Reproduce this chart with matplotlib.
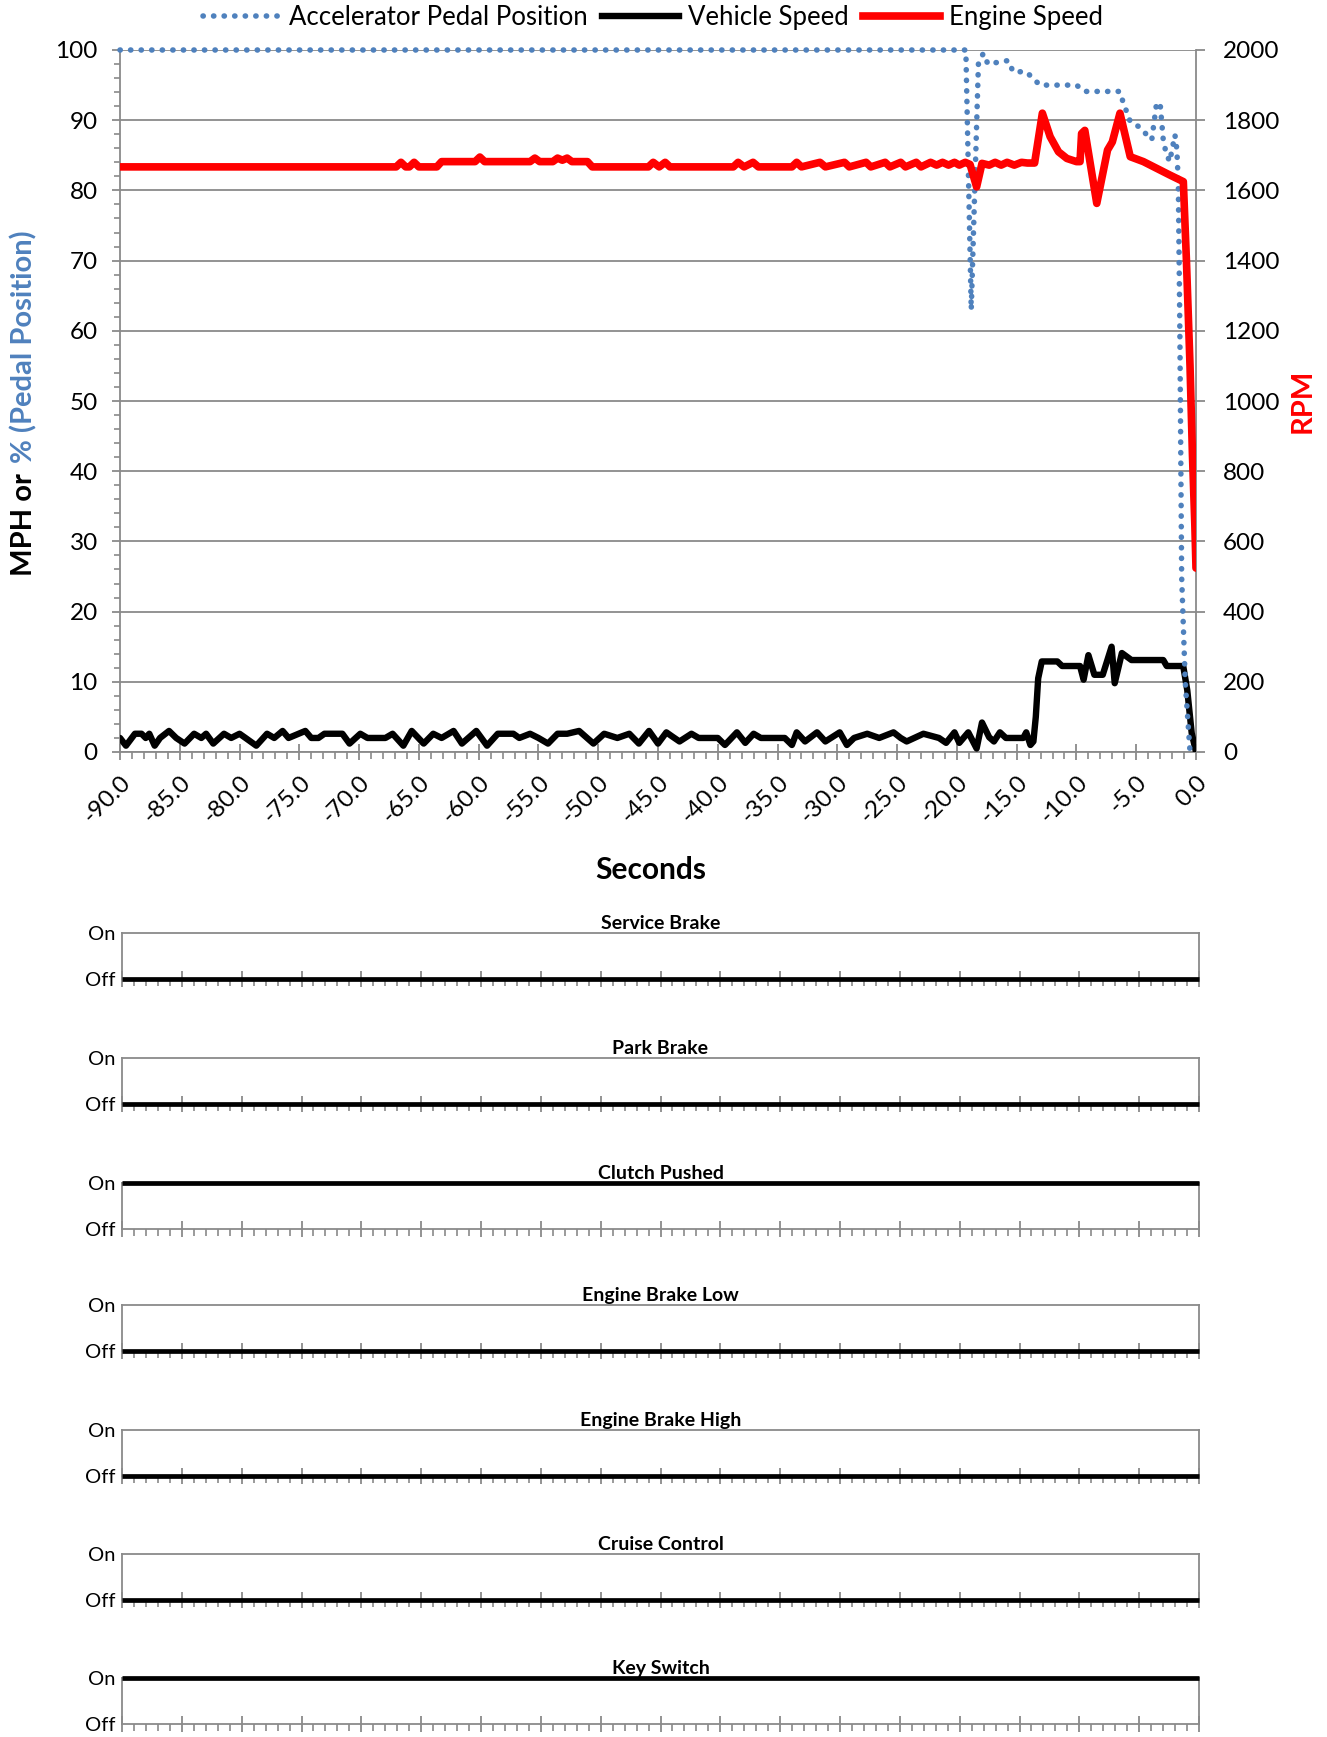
import matplotlib
matplotlib.use("Agg")
import matplotlib.pyplot as plt
from matplotlib.ticker import MultipleLocator, FormatStrFormatter
from matplotlib.lines import Line2D

plt.rcParams['font.family'] = ['Lato', 'DejaVu Sans']

# --- Data ---
speed_t = [-90, -89.5, -88.75, -88.2, -87.85, -87.55, -87.1, -86.65, -85.9, -85.3,
           -84.6, -83.8, -83.2, -82.8, -82.2, -81.3, -80.7, -80.0, -79.5, -78.6,
           -77.7, -77.1, -76.4, -75.9, -74.5, -74.0, -73.4, -72.9, -71.4, -70.8,
           -69.9, -69.3, -67.8, -67.2, -66.3, -65.6, -64.6, -63.8, -63.1, -62.1,
           -61.4, -60.2, -59.3, -58.4, -57.1, -56.6, -55.7, -55.0, -54.2, -53.4,
           -52.6, -51.6, -50.4, -49.5, -48.4, -47.4, -46.6, -45.75, -45.0, -44.3,
           -43.8, -43.2, -42.2, -41.6, -40.0, -39.4, -38.4, -37.7, -37.0, -36.4,
           -34.4, -33.8, -33.4, -32.7, -31.7, -31.0, -29.8, -29.2, -28.6, -27.5,
           -26.5, -25.3, -24.7, -24.2, -22.8, -21.5, -20.9, -20.2, -19.8, -19.05,
           -18.35, -17.9, -17.3, -16.9, -16.4, -15.9, -14.45, -14.2, -13.85, -13.6,
           -13.4, -13.2, -12.9, -11.6, -11.2, -9.7, -9.4, -9.0, -8.5, -7.8,
           -7.06, -6.8, -6.2, -5.4, -2.74, -2.45, -1.07, -0.73, -0.36, 0.0]
speed_mph = [2.0, 0.9, 2.6, 2.6, 2.0, 2.6, 0.9, 2.0, 3.0, 2.0,
             1.2, 2.6, 2.0, 2.6, 1.2, 2.6, 2.0, 2.6, 2.0, 0.9,
             2.6, 2.0, 3.0, 2.0, 3.0, 2.0, 2.0, 2.6, 2.6, 1.2,
             2.6, 2.0, 2.0, 2.6, 0.9, 3.0, 1.2, 2.6, 2.0, 3.0,
             1.2, 3.0, 0.9, 2.6, 2.6, 2.0, 2.6, 2.0, 1.2, 2.6,
             2.6, 3.0, 1.2, 2.6, 2.0, 2.6, 1.2, 3.0, 1.2, 2.8,
             2.2, 1.5, 2.6, 2.0, 2.0, 1.0, 2.8, 1.3, 2.6, 2.0,
             2.0, 1.0, 2.8, 1.5, 2.8, 1.5, 2.8, 1.0, 2.0, 2.6,
             2.0, 2.8, 2.0, 1.5, 2.6, 2.0, 1.3, 2.8, 1.3, 2.8,
             0.5, 4.2, 2.1, 1.5, 2.8, 2.0, 2.0, 2.8, 1.0, 1.5,
             5.0, 10.5, 12.9, 12.9, 12.25, 12.25, 10.3, 13.8, 11.0, 11.0,
             15.0, 9.8, 14.1, 13.1, 13.1, 12.25, 12.25, 8.8, 2.7, 0.0]

pedal_t = [-90, -19.25, -18.8, -18.2, -17.8, -17.4, -16.4, -15.7, -15.3, -14.2,
           -13.05, -10.0, -9.3, -6.4, -6.1, -5.5, -4.8, -4.1, -3.7, -3.3,
           -3.0, -2.74, -2.5, -2.2, -1.76, -1.6, -1.48, -1.35, -1.2, -0.9, -0.5]
pedal_pct = [100, 100, 63, 98, 99.5, 98, 98.3, 98.5, 96.9, 96.9,
             95, 95, 94.1, 94.1, 92.6, 89.8, 89.1, 87.9, 87.2, 92.4,
             92.4, 87.2, 85.3, 84.1, 87.9, 85.8, 81, 60, 25, 10, 0]

rpm_t = [-90, -66.9, -66.5, -66.1, -65.8, -65.4, -65.0, -63.5, -63.1, -60.3,
         -59.9, -59.5, -55.7, -55.3, -54.9, -53.8, -53.4, -53.0, -52.6, -52.2,
         -50.9, -50.5, -45.8, -45.4, -44.9, -44.4, -44.0, -38.7, -38.3, -37.8,
         -37.05, -36.6, -33.8, -33.4, -33.0, -31.45, -31.0, -29.4, -29.0, -27.6,
         -27.2, -26.0, -25.6, -24.7, -24.3, -23.4, -23.0, -22.2, -21.7, -21.2,
         -20.7, -20.2, -19.8, -19.3, -18.9, -18.35, -17.9, -17.3, -16.8, -16.3,
         -15.8, -15.2, -14.6, -14.1, -13.5, -12.85, -12.2, -11.5, -10.8, -10.0,
         -9.7, -9.57, -9.3, -8.3, -7.4, -7.0, -6.36, -5.5, -4.4, -3.3,
         -2.2, -1.06, -0.8, -0.5, -0.3, -0.1, 0.0]
rpm = [1667, 1667, 1680, 1667, 1667, 1680, 1667, 1667, 1682, 1682,
       1695, 1682, 1682, 1692, 1682, 1682, 1692, 1686, 1692, 1682,
       1682, 1667, 1667, 1680, 1667, 1680, 1667, 1667, 1680, 1667,
       1680, 1667, 1667, 1680, 1667, 1680, 1667, 1680, 1667, 1680,
       1667, 1680, 1667, 1680, 1667, 1680, 1667, 1680, 1672, 1680,
       1672, 1680, 1672, 1680, 1674, 1610, 1677, 1672, 1680, 1672,
       1680, 1672, 1680, 1678, 1678, 1820, 1753, 1710, 1691, 1682,
       1682, 1762, 1771, 1563, 1715, 1738, 1820, 1696, 1682, 1663,
       1644, 1625, 1400, 1100, 850, 650, 524]

panel_t = [-90, 0]
panel_names = ["Service Brake", "Park Brake", "Clutch Pushed", "Engine Brake Low",
               "Engine Brake High", "Cruise Control", "Key Switch"]
service_brake = [0, 0]
park_brake = [0, 0]
clutch_pushed = [1, 1]
engine_brake_low = [0, 0]
engine_brake_high = [0, 0]
cruise_control = [0, 0]
key_switch = [1, 1]
panel_states = [service_brake, park_brake, clutch_pushed, engine_brake_low,
                engine_brake_high, cruise_control, key_switch]

# --- Layout helpers ---
W, H = 1327, 1737
GRAY = "#8a8a8a"
BLUE = "#4f81bd"
RED = "#ff0000"
DOTS = (0, (0.05, 1.85))


def px_axes(fig, left, top, right, bottom):
    return fig.add_axes([left / W, 1 - bottom / H, (right - left) / W, (bottom - top) / H])


fig = plt.figure(figsize=(W / 100, H / 100), dpi=100)

# --- Main chart ---
ax = px_axes(fig, 120, 50, 1196, 752)
ax.plot(speed_t, speed_mph, color="black", lw=4.6, solid_joinstyle="round",
        solid_capstyle="round", zorder=3)
ax.plot(pedal_t, pedal_pct, color=BLUE, lw=4.0, linestyle=DOTS,
        dash_capstyle="round", zorder=4, clip_on=False)
ax.set_xlim(-90, 0)
ax.set_ylim(0, 100)
ax.yaxis.set_major_locator(MultipleLocator(10))
ax.yaxis.set_minor_locator(MultipleLocator(2))
ax.xaxis.set_major_locator(MultipleLocator(5))
ax.xaxis.set_minor_locator(MultipleLocator(1))
ax.xaxis.set_major_formatter(FormatStrFormatter("%.1f"))
ax.grid(axis="y", which="major", color=GRAY, lw=1.3)
ax.set_axisbelow(True)
for s in ["left", "right", "bottom"]:
    ax.spines[s].set_color(GRAY)
    ax.spines[s].set_linewidth(1.3)
ax.spines["top"].set_visible(False)
ax.tick_params(axis="y", which="major", direction="out", length=6, width=1.3,
               color=GRAY, labelsize=17.5, pad=10)
ax.tick_params(axis="y", which="minor", direction="out", length=4, width=1.2, color=GRAY)
ax.tick_params(axis="x", which="major", direction="inout", length=12, width=1.3,
               color=GRAY, labelsize=17.5, pad=8)
ax.tick_params(axis="x", which="minor", direction="out", length=5, width=1.2, color=GRAY)
plt.setp(ax.get_xticklabels(), rotation=45, ha="right", rotation_mode="anchor")

ax2 = ax.twinx()
ax2.plot(rpm_t, rpm, color=RED, lw=5.5, solid_joinstyle="round",
         solid_capstyle="round", zorder=3)
ax2.set_ylim(0, 2000)
ax2.yaxis.set_major_locator(MultipleLocator(200))
for s in ax2.spines.values():
    s.set_visible(False)
ax2.tick_params(axis="y", direction="out", length=6.5, width=1.3, color=GRAY,
                labelsize=17.5, pad=13)

handles = [
    Line2D([], [], color=BLUE, lw=4.0, linestyle=DOTS, dash_capstyle="round"),
    Line2D([], [], color="black", lw=4.6),
    Line2D([], [], color=RED, lw=5.5),
]
fig.legend(handles, ["Accelerator Pedal Position", "Vehicle Speed", "Engine Speed"],
           loc="center", bbox_to_anchor=(0.492, 0.9898), ncol=3, frameon=False,
           fontsize=18.5, handlelength=3.0, handletextpad=0.35, columnspacing=0.55)

fig.text(651 / W, 1 - 870 / H, "Seconds", ha="center", va="center",
         fontsize=21.5, fontweight="bold")
fig.text(1303 / W, 1 - 401 / H, "RPM", ha="center", va="center", rotation=90,
         fontsize=21, fontweight="bold", color=RED)

# two-colour y label, built from the bottom up
t1 = fig.text(24 / W, 1 - 576 / H, "MPH or", ha="center", va="bottom", rotation=90,
              fontsize=21, fontweight="bold", color="black")
fig.canvas.draw()
bb = t1.get_window_extent(fig.canvas.get_renderer())
fig.text(24 / W, (bb.y1 + 10) / H, "% (Pedal Position)", ha="center", va="bottom",
         rotation=90, fontsize=21, fontweight="bold", color=BLUE)

# --- On/Off panels ---
panel_tops = [933, 1058, 1183, 1305, 1430, 1554, 1678]
panel_h = 46
for name, state, top in zip(panel_names, panel_states, panel_tops):
    pax = px_axes(fig, 122, top, 1199, top + panel_h)
    pax.plot(panel_t, state, color="black", lw=3.4, clip_on=False, zorder=5,
             solid_capstyle="butt")
    pax.set_xlim(-90, 0)
    pax.set_ylim(0, 1)
    pax.set_yticks([0, 1])
    pax.set_yticklabels(["Off", "On"])
    pax.xaxis.set_major_locator(MultipleLocator(5))
    pax.xaxis.set_minor_locator(MultipleLocator(1))
    pax.tick_params(axis="x", which="major", direction="inout", length=12, width=1.3,
                    color=GRAY, labelbottom=False)
    pax.tick_params(axis="x", which="minor", direction="out", length=5, width=1.2,
                    color=GRAY)
    pax.tick_params(axis="y", length=0, labelsize=14.5, pad=5)
    for s in pax.spines.values():
        s.set_color(GRAY)
        s.set_linewidth(1.3)
    pax.annotate(name, xy=(0.5, 1.0), xycoords="axes fraction", xytext=(0, 1),
                 textcoords="offset points", ha="center", va="bottom",
                 fontsize=14, fontweight="bold")

fig.savefig("out.png", dpi=100)
